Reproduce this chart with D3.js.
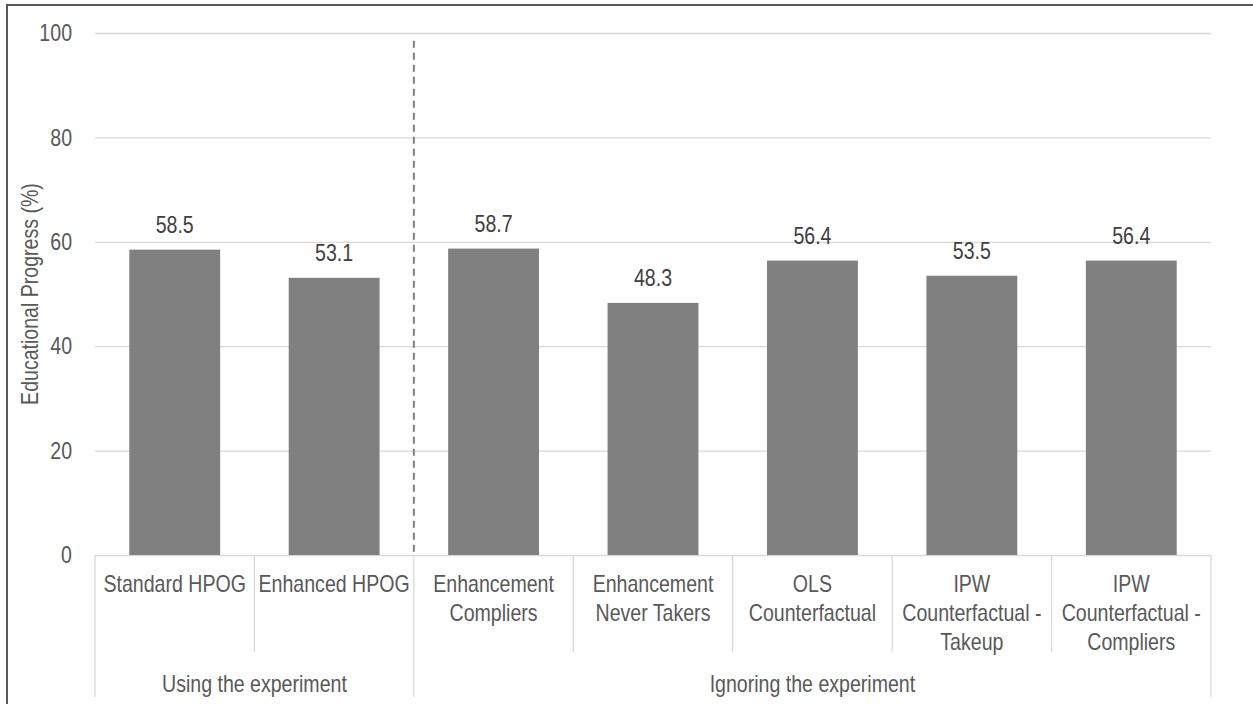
<!DOCTYPE html>
<html>
<head>
<meta charset="utf-8">
<script src="https://cdn.jsdelivr.net/npm/d3@7"></script>
<style>
  body { margin: 0; background: #fff; }
  svg text { font-family: "Liberation Sans", Arial, sans-serif; fill: #595959; }
</style>
</head>
<body>
<svg id="chart" width="1253" height="704"></svg>
<script>
// chart data
var categories = ["Standard HPOG", "Enhanced HPOG", "Enhancement Compliers",
  "Enhancement Never Takers", "OLS Counterfactual", "IPW Counterfactual - Takeup",
  "IPW Counterfactual - Compliers"];
var categoryLines = [["Standard HPOG"], ["Enhanced HPOG"], ["Enhancement", "Compliers"],
  ["Enhancement", "Never Takers"], ["OLS", "Counterfactual"],
  ["IPW", "Counterfactual -", "Takeup"], ["IPW", "Counterfactual -", "Compliers"]];
var values = [58.5, 53.1, 58.7, 48.3, 56.4, 53.5, 56.4];
var groups = ["Using the experiment", "Ignoring the experiment"];
var groupSizes = [2, 5];
var yTicks = [0, 20, 40, 60, 80, 100];
var yTitle = "Educational Progress (%)";

var svg = d3.select("#chart");
var plotLeft = 95, plotRight = 1211, plotTop = 33, plotBottom = 555;
var NARROW = 0.815;

// squeeze text horizontally to mimic a narrow font
function condense(sel) {
  sel.each(function() {
    var len = this.getComputedTextLength();
    if (len > 0) {
      d3.select(this)
        .attr("textLength", len * NARROW)
        .attr("lengthAdjust", "spacingAndGlyphs");
    }
  });
}

// outer frame (cut off by the picture on the right and bottom)
svg.append("path")
  .attr("d", "M7,710 V5 H1260")
  .attr("fill", "none")
  .attr("stroke", "#595959")
  .attr("stroke-width", 2);

var x = d3.scaleBand().domain(categories).range([plotLeft, plotRight])
  .paddingInner(0.43).paddingOuter(0.215);
var y = d3.scaleLinear().domain([0, 100]).range([plotBottom, plotTop]);

// y axis with gridlines
var yAxis = d3.axisLeft(y).tickValues(yTicks)
  .tickSize(-(plotRight - plotLeft)).tickPadding(23);
var gy = svg.append("g").attr("transform", "translate(" + plotLeft + ",0)").call(yAxis);
gy.select(".domain").remove();
gy.selectAll(".tick line").attr("stroke", "#d9d9d9").attr("stroke-width", 1.3);
gy.selectAll(".tick text")
  .attr("font-family", null)
  .attr("font-size", null)
  .style("font-size", "24px")
  .attr("fill", "#595959")
  .call(condense);

// y axis title
svg.append("text")
  .attr("transform", "translate(38," + ((plotTop + plotBottom) / 2) + ") rotate(-90)")
  .attr("text-anchor", "middle")
  .style("font-size", "24px")
  .text(yTitle)
  .call(condense);

// bars
svg.append("g").selectAll("rect")
  .data(values)
  .join("rect")
  .attr("x", function(d, i) { return x(categories[i]); })
  .attr("y", function(d) { return y(d); })
  .attr("width", x.bandwidth())
  .attr("height", function(d) { return y(0) - y(d); })
  .attr("fill", "#808080");

// value labels
svg.append("g").selectAll("text")
  .data(values)
  .join("text")
  .attr("x", function(d, i) { return x(categories[i]) + x.bandwidth() / 2; })
  .attr("y", function(d) { return y(d) - 17; })
  .attr("text-anchor", "middle")
  .style("font-size", "24px")
  .style("fill", "#404040")
  .text(function(d) { return d.toFixed(1); })
  .call(condense);

// group divider (dashed)
var step = x.step();
var splitX = plotLeft + step * groupSizes[0];
svg.append("line")
  .attr("x1", splitX).attr("x2", splitX)
  .attr("y1", y(98.5)).attr("y2", y(0) - 2)
  .attr("stroke", "#808080")
  .attr("stroke-width", 2)
  .attr("stroke-dasharray", "7,5");

// category axis: separators and labels
var gx = svg.append("g");
var groupEdges = [0];
groupSizes.forEach(function(n) { groupEdges.push(groupEdges[groupEdges.length - 1] + n); });

for (var i = 0; i <= categories.length; i++) {
  var isGroupEdge = groupEdges.indexOf(i) >= 0;
  gx.append("line")
    .attr("x1", plotLeft + step * i).attr("x2", plotLeft + step * i)
    .attr("y1", plotBottom).attr("y2", isGroupEdge ? 697 : 652)
    .attr("stroke", "#d9d9d9").attr("stroke-width", 1.3);
}

categoryLines.forEach(function(lines, i) {
  lines.forEach(function(s, j) {
    gx.append("text")
      .attr("x", x(categories[i]) + x.bandwidth() / 2)
      .attr("y", 592 + j * 29)
      .attr("text-anchor", "middle")
      .style("font-size", "24px")
      .text(s)
      .call(condense);
  });
});

groups.forEach(function(g, k) {
  var x0 = plotLeft + step * groupEdges[k], x1 = plotLeft + step * groupEdges[k + 1];
  gx.append("text")
    .attr("x", (x0 + x1) / 2)
    .attr("y", 692)
    .attr("text-anchor", "middle")
    .style("font-size", "24px")
    .text(g)
    .call(condense);
});
</script>
</body>
</html>
